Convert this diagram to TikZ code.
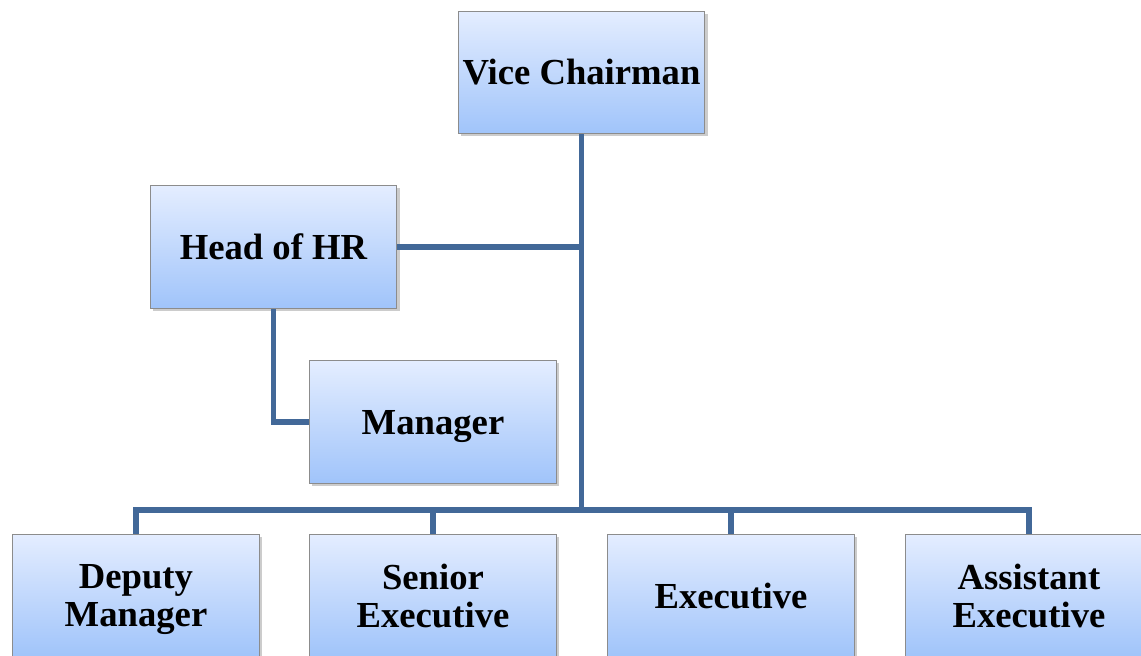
\documentclass[tikz,border=0pt]{standalone}
\usepackage{fontspec}
\setmainfont{Liberation Serif}
\usepackage{xcolor}
\usetikzlibrary{shadows}

\definecolor{boxtop}{RGB}{228,237,255}
\definecolor{boxbot}{RGB}{160,196,250}
\definecolor{boxline}{RGB}{140,140,140}
\definecolor{linkblue}{RGB}{66,104,152}

\tikzset{
	post/.style={draw=boxline, line width=0.8pt, top color=boxtop, bottom color=boxbot,
		minimum width=185pt, minimum height=92pt, inner sep=0pt, align=center,
		font=\fontsize{27.5}{28.5}\selectfont\bfseries,
		drop shadow={opacity=0.4, shadow xshift=2pt, shadow yshift=-2pt}},
	link/.style={draw=linkblue, line width=3.8pt, line join=miter}
}

\begin{document}
\begin{tikzpicture}[x=0.75pt,y=0.75pt,yscale=-1,xscale=1]
		\useasboundingbox (0,0) rectangle (1141,656);
		
		%Shape: top level
		\node [post] (vc) at (581.5,72.5) {Vice Chairman};
		%Shape: HR branch
		\node [post] (hr) at (273.5,247) {Head of HR};
		\node [post] (mgr) at (433,422) {\raisebox{0pt}[\height][0pt]{Manager}};
		%Shape: bottom row
		\node [post] (dm) at (136,595.5) {Deputy\\\raisebox{0pt}[\height][0pt]{Manager}};
		\node [post] (se) at (433,595.5) {Senior\\Executive};
		\node [post] (ex) at (731,595.5) {Executive};
		\node [post] (ae) at (1029,595.5) {Assistant\\Executive};
		
		% bus line
		\coordinate (bus) at (581.5,510);
		
		% Connectors
		\draw [link] (vc.south) -- (bus);
		\draw [link] (hr.east) -- (hr.east -| vc.south);
		\draw [link] (hr.south) |- (mgr.west);
		\draw [link] (bus) -| (dm.north);
		\draw [link] (bus) -| (ae.north);
		\draw [link] (bus -| se.north) -- (se.north);
		\draw [link] (bus -| ex.north) -- (ex.north);
		
\end{tikzpicture}
\end{document}
